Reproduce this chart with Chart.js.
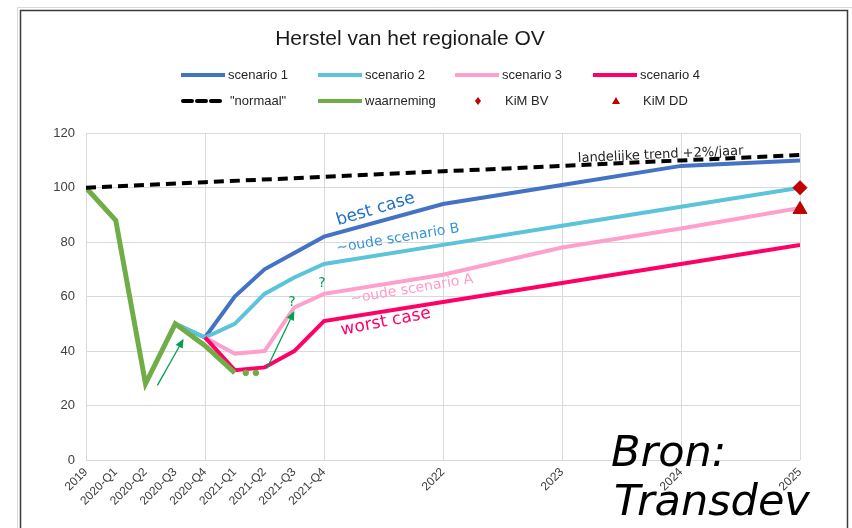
<!DOCTYPE html>
<html>
<head>
<meta charset="utf-8">
<title>Herstel van het regionale OV</title>
<script src="https://cdn.jsdelivr.net/npm/chart.js@4"></script>
<style>
  html, body { margin: 0; padding: 0; background: #fff; }
  canvas { display: block; }
</style>
</head>
<body>
<canvas id="herstel" width="852" height="528"></canvas>
<script>
// x = kwartalen sinds 2019 (0 = 2019, 1 = 2020-Q1, ... 24 = 2025)
const kwartalen = [0, 1, 2, 3, 4, 5, 6, 7, 8, 12, 16, 20, 24];
const labels = ['2019', '2020-Q1', '2020-Q2', '2020-Q3', '2020-Q4', '2021-Q1', '2021-Q2',
                '2021-Q3', '2021-Q4', '2022', '2023', '2024', '2025'];

const normaal    = [100, null, null, null, 102, null, null, null, 104, 106, 108, 110, 112];
const waarneming = [100, 88, 28, 50, 42, 32, null, null, null, null, null, null, null];
const scenario1  = [null, null, null, 50, 45, 60, 70, 76, 82, 94, 101, 108, 110];
const scenario2  = [null, null, null, 50, 45, 50, 61, 67, 72, 79, 86, 93, 100];
const scenario3  = [null, null, null, null, 45, 39, 40, 56, 61, 68, 78, 85, 92.5];
const scenario4  = [null, null, null, null, 45, 33, 34, 40, 51, 58, 65, 72, 79];
const kimBV      = [null, null, null, null, null, null, null, null, null, null, null, null, 100];
const kimDD      = [null, null, null, null, null, null, null, null, null, null, null, null, 92];

// "..." na waarneming 2021-Q1
const stippelX = [5.37, 5.71];
const stippelY = [32, 32];

// teksten in de grafiek: [tekst, x, y, hoek, kleur, grootte]
const teksten = [
  ['best case', 8.47, 86.2, -16.6, '#1F6FC5', 17],
  ['~oude scenario B', 8.44, 76.3, -9.4, '#3594D6', 14],
  ['~oude scenario A', 8.91, 57.6, -9.5, '#FF9ACB', 14],
  ['worst case', 8.6, 45.9, -11, '#FF0066', 17],
  ['landelijke trend +2%/jaar', 16.54, 109.4, -2.6, '#262626', 13],
  ['?', 6.92, 56.5, 0, '#00A050', 14],
  ['?', 7.93, 63.5, 0, '#00A050', 14]
];

// groene pijlen: [x0, y0, x1, y1]
const pijlen = [
  [2.4, 27.4, 3.28, 44.5],
  [6.08, 33.6, 7.0, 54.7]
];

const toPoints = arr => kwartalen.map((x, i) => ({ x: x, y: arr[i] })).filter(p => p.y !== null);

function lijn(label, data, color, width, order) {
  return {
    label: label,
    data: toPoints(data),
    borderColor: color,
    backgroundColor: color,
    borderWidth: width,
    pointRadius: 0,
    tension: 0,
    fill: false,
    order: order
  };
}

const datasets = [
  lijn('scenario 1', scenario1, '#4472C4', 4, 6),
  lijn('scenario 2', scenario2, '#5BC4DA', 4, 5),
  lijn('scenario 3', scenario3, '#FF9FCB', 4, 4),
  lijn('scenario 4', scenario4, '#FF0066', 4, 3),
  Object.assign(lijn('"normaal"', normaal, '#000000', 4, 1), { borderDash: [10, 6], spanGaps: true }),
  lijn('waarneming', waarneming, '#70AD47', 5, 2),
  {
    label: 'KiM BV', data: toPoints(kimBV), showLine: false, order: 0, clip: false,
    pointStyle: 'rectRot', pointRadius: 7, backgroundColor: '#C00000', borderColor: '#C00000'
  },
  {
    label: 'KiM DD', data: toPoints(kimDD), showLine: false, order: 0, clip: false,
    pointStyle: 'triangle', pointRadius: 8, backgroundColor: '#C00000', borderColor: '#C00000'
  },
  {
    label: 'stippel', data: stippelX.map((x, i) => ({ x: x, y: stippelY[i] })), showLine: false, order: 2,
    pointStyle: 'circle', pointRadius: 2.8, backgroundColor: '#70AD47', borderColor: '#70AD47'
  }
];

// legenda, twee rijen van vier
const legendaPlugin = {
  id: 'legenda',
  afterDraw(chart) {
    const ctx = chart.ctx;
    const rijen = [75, 101];
    const kolommen = [181, 318, 455, 593];
    const items = chart.data.datasets.slice(0, 8);
    ctx.save();
    ctx.font = '13px "Liberation Sans", Arial, sans-serif';
    ctx.textBaseline = 'middle';
    items.forEach((ds, i) => {
      const y = rijen[Math.floor(i / 4)];
      const x = kolommen[i % 4];
      if (ds.showLine === false) {
        const cx = x + 23;
        ctx.fillStyle = ds.backgroundColor;
        ctx.beginPath();
        if (ds.pointStyle === 'rectRot') {
          ctx.moveTo(cx, y - 4); ctx.lineTo(cx + 3, y); ctx.lineTo(cx, y + 4); ctx.lineTo(cx - 3, y);
        } else {
          ctx.moveTo(cx, y - 4); ctx.lineTo(cx + 4, y + 3); ctx.lineTo(cx - 4, y + 3);
        }
        ctx.closePath();
        ctx.fill();
        ctx.fillStyle = '#262626';
        ctx.fillText(ds.label, x + 50, y);
      } else {
        ctx.strokeStyle = ds.borderColor;
        ctx.lineWidth = 4;
        ctx.setLineDash(ds.borderDash ? [9, 5] : []);
        ctx.lineCap = ds.borderDash ? 'round' : 'butt';
        ctx.beginPath();
        ctx.moveTo(x + (ds.borderDash ? 2 : 0), y);
        ctx.lineTo(x + 44, y);
        ctx.stroke();
        ctx.setLineDash([]);
        ctx.fillStyle = '#262626';
        ctx.fillText(ds.label, x + 47 + (ds.borderDash ? 2 : 0), y);
      }
    });
    ctx.restore();
  }
};

// kader rond de grafiek
const kaderPlugin = {
  id: 'kader',
  beforeDraw(chart) {
    const ctx = chart.ctx;
    ctx.save();
    ctx.fillStyle = '#ffffff';
    ctx.fillRect(0, 0, chart.width, chart.height);
    ctx.strokeStyle = '#d8d8d8';
    ctx.lineWidth = 1;
    ctx.beginPath();
    ctx.moveTo(17.5, chart.height); ctx.lineTo(17.5, 7.5); ctx.lineTo(852, 7.5);
    ctx.stroke();
    ctx.strokeStyle = '#3a3a3a';
    ctx.lineWidth = 1.5;
    ctx.strokeRect(20.5, 10.5, 827, chart.height);
    ctx.restore();
  }
};

// teksten, pijlen en bron
const notitiePlugin = {
  id: 'notities',
  afterDatasetsDraw(chart) {
    const ctx = chart.ctx;
    const xs = chart.scales.x, ys = chart.scales.y;
    ctx.save();
    teksten.forEach(t => {
      ctx.save();
      ctx.translate(xs.getPixelForValue(t[1]), ys.getPixelForValue(t[2]));
      ctx.rotate(t[3] * Math.PI / 180);
      ctx.font = t[5] + 'px "DejaVu Sans", Verdana, sans-serif';
      ctx.fillStyle = t[4];
      ctx.textBaseline = 'alphabetic';
      ctx.textAlign = t[0] === '?' ? 'center' : 'left';
      ctx.fillText(t[0], 0, 0);
      ctx.restore();
    });
    ctx.strokeStyle = '#00A050';
    ctx.fillStyle = '#00A050';
    ctx.lineWidth = 1.3;
    pijlen.forEach(p => {
      const x0 = xs.getPixelForValue(p[0]), y0 = ys.getPixelForValue(p[1]);
      const x1 = xs.getPixelForValue(p[2]), y1 = ys.getPixelForValue(p[3]);
      const a = Math.atan2(y1 - y0, x1 - x0);
      ctx.beginPath();
      ctx.moveTo(x0, y0);
      ctx.lineTo(x1 - 6 * Math.cos(a), y1 - 6 * Math.sin(a));
      ctx.stroke();
      ctx.beginPath();
      ctx.moveTo(x1, y1);
      ctx.lineTo(x1 - 9 * Math.cos(a) + 4 * Math.sin(a), y1 - 9 * Math.sin(a) - 4 * Math.cos(a));
      ctx.lineTo(x1 - 9 * Math.cos(a) - 4 * Math.sin(a), y1 - 9 * Math.sin(a) + 4 * Math.cos(a));
      ctx.closePath();
      ctx.fill();
    });
    ctx.restore();
  },
  afterDraw(chart) {
    const ctx = chart.ctx;
    ctx.save();
    ctx.font = 'italic 43px "DejaVu Sans", Verdana, sans-serif';
    ctx.fillStyle = '#000000';
    ctx.textBaseline = 'alphabetic';
    ctx.fillText('Bron:', 611, 466);
    ctx.fillText('Transdev', 614, 515);
    ctx.restore();
  }
};

new Chart(document.getElementById('herstel'), {
  type: 'line',
  data: { datasets: datasets },
  plugins: [kaderPlugin, legendaPlugin, notitiePlugin],
  options: {
    responsive: false,
    animation: false,
    layout: { padding: { top: 10, left: 20, right: 52, bottom: 8 } },
    plugins: {
      legend: { display: false },
      tooltip: { enabled: false },
      title: {
        display: true,
        text: 'Herstel van het regionale OV',
        color: '#1a1a1a',
        font: { family: '"Liberation Sans", Arial, sans-serif', size: 21, weight: 'normal' },
        padding: { top: 17, bottom: 81 }
      }
    },
    scales: {
      x: {
        type: 'linear',
        min: 0,
        max: 24,
        afterBuildTicks: scale => { scale.ticks = kwartalen.map(v => ({ value: v })); },
        afterFit: scale => { scale.height = 60; },
        border: { display: false },
        grid: {
          drawTicks: false,
          color: c => (c.tick && c.tick.value % 4 === 0) ? '#D9D9D9' : 'rgba(0,0,0,0)',
          lineWidth: 1
        },
        ticks: {
          autoSkip: false,
          minRotation: 45,
          maxRotation: 45,
          padding: 5,
          color: '#404040',
          font: { family: '"Liberation Sans", Arial, sans-serif', size: 12 },
          callback: v => labels[kwartalen.indexOf(v)]
        }
      },
      y: {
        min: 0,
        max: 120,
        afterFit: scale => { scale.width = 66; },
        border: { display: false },
        grid: { drawTicks: false, color: '#D9D9D9', lineWidth: 1 },
        ticks: {
          stepSize: 20,
          padding: 11,
          color: '#404040',
          font: { family: '"Liberation Sans", Arial, sans-serif', size: 13 }
        }
      }
    }
  }
});
</script>
</body>
</html>
